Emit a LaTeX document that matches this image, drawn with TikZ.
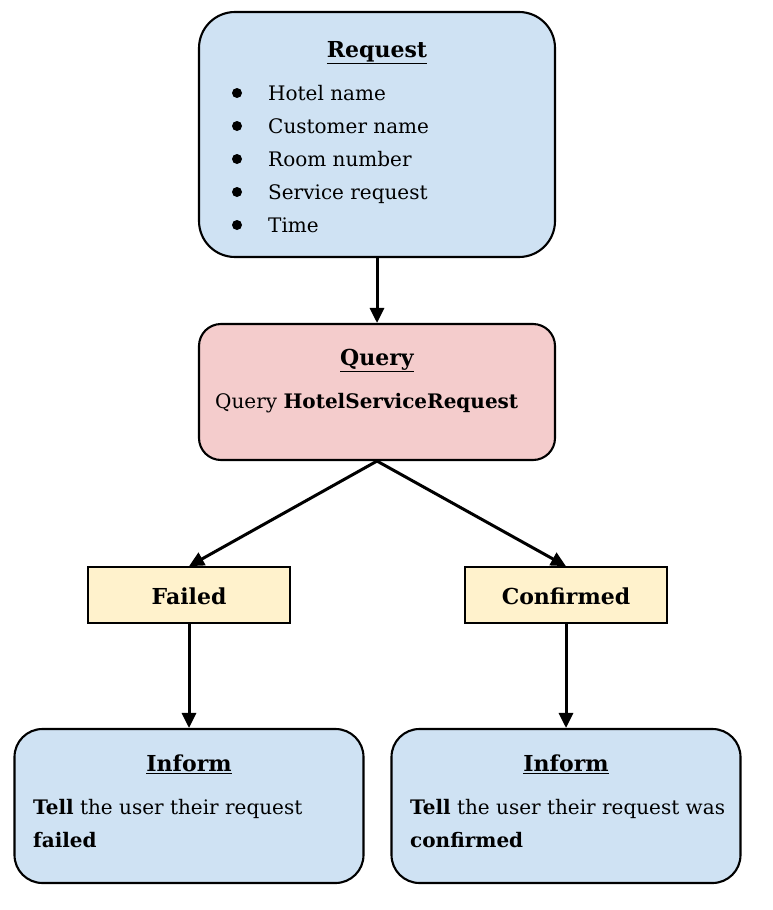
\documentclass[tikz,border=0pt]{standalone}
\usepackage{fontspec}
\setmainfont{DejaVu Serif}
\usetikzlibrary{arrows.meta}
\definecolor{boxblue}{HTML}{CFE2F3}
\definecolor{boxpink}{HTML}{F4CCCC}
\definecolor{boxyellow}{HTML}{FFF2CC}
\tikzset{
  box/.style={draw=black, line width=2.1pt, inner sep=0pt},
  bluebox/.style={box, fill=boxblue, rounded corners=36pt},
  pinkbox/.style={box, fill=boxpink, rounded corners=22pt},
  yellowbox/.style={box, fill=boxyellow, line width=1.6pt},
  informbox/.style={box, fill=boxblue, rounded corners=28pt},
  txt/.style={inner sep=0pt, anchor=base west, font=\fontsize{20}{24}\selectfont},
  ttl/.style={inner sep=0pt, anchor=base, font=\fontsize{22}{26}\selectfont\bfseries},
  dot/.style={circle, fill=black, inner sep=0pt, minimum size=10pt},
  arr/.style={line width=3pt, -{Triangle[length=15pt,width=14pt]}},
}
\begin{document}
\begin{tikzpicture}[x=1pt,y=-1pt]
\useasboundingbox (0,0) rectangle (772,910);
% boxes
\node[bluebox, minimum width=356pt, minimum height=245pt] (req) at (377,134.5) {};
\node[pinkbox, minimum width=356pt, minimum height=136pt] (qry) at (377,392) {};
\node[yellowbox, minimum width=202pt, minimum height=56pt] (fail) at (189,595) {};
\node[yellowbox, minimum width=202pt, minimum height=56pt] (conf) at (566,595) {};
\node[informbox, minimum width=349pt, minimum height=154pt] (inf1) at (189,806) {};
\node[informbox, minimum width=349pt, minimum height=154pt] (inf2) at (566,806) {};
% request text
\node[ttl] (reqt) at (377,57) {\underline{Request}};
\node[dot] (b1) at (237,93) {};
\node[dot] (b2) at (237,126) {};
\node[dot] (b3) at (237,159) {};
\node[dot] (b4) at (237,192) {};
\node[dot] (b5) at (237,225) {};
\node[txt] (l1) at (268,100) {Hotel name};
\node[txt] (l2) at (268,133) {Customer name};
\node[txt] (l3) at (268,166) {Room number};
\node[txt] (l4) at (268,199) {Service request};
\node[txt] (l5) at (268,232) {Time};
% query text
\node[ttl] (qryt) at (377,365) {\underline{Query}};
\node[txt] (qryl) at (215,408) {Query \textbf{HotelServiceRequest}};
% outcome labels
\node[ttl] (failt) at (189,604) {Failed};
\node[ttl] (conft) at (566,604) {Confirmed};
% inform text
\node[ttl] (inf1t) at (189,771) {\underline{Inform}};
\node[txt] (inf1a) at (33,814) {\textbf{Tell} the user their request};
\node[txt] (inf1b) at (33,847) {\textbf{failed}};
\node[ttl] (inf2t) at (566,771) {\underline{Inform}};
\node[txt] (inf2a) at (410,814) {\textbf{Tell} the user their request was};
\node[txt] (inf2b) at (410,847) {\textbf{confirmed}};
% connectors
\draw[arr] (req.south) -- (qry.north);
\draw[arr] (qry.south) -- (fail.north);
\draw[arr] (qry.south) -- (conf.north);
\draw[arr] (fail.south) -- (inf1.north);
\draw[arr] (conf.south) -- (inf2.north);
\end{tikzpicture}
\end{document}
